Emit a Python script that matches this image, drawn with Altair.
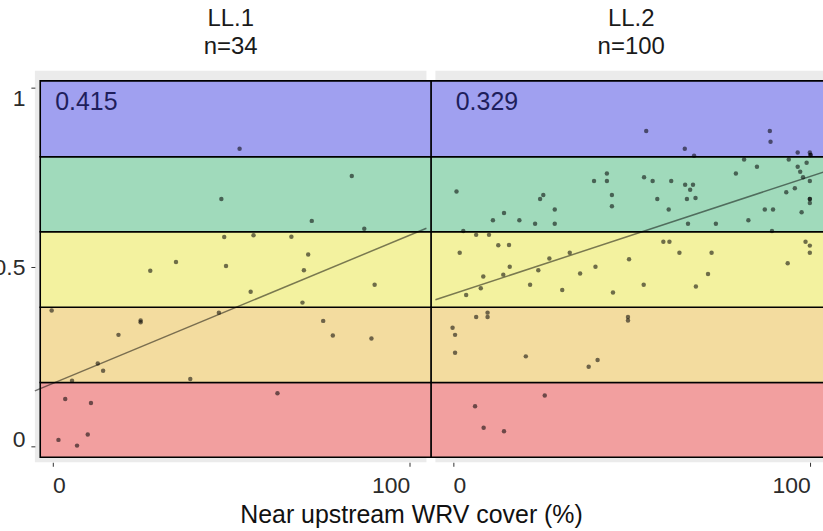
import altair as alt
import pandas as pd

# ---------------- data ----------------
panel_names = ["LL.1", "LL.2"]
n_labels = ["n=34", "n=100"]
r_labels = ["0.415", "0.329"]

ll1_x = [52.4, 83.8, 47.3, 72.6, 87.3, 48.1, 56.3, 66.9, 71.6, 27.4, 34.6, 48.6,
         70.4, 90.2, 55.5, 70.0, -0.2, 46.6, 24.7, 24.7, 75.8, 18.5, 78.5, 89.3,
         12.7, 14.2, 5.5, 38.6, 63.0, 3.6, 10.8, 1.7, 6.9, 9.9]
ll1_y = [0.830, 0.754, 0.690, 0.629, 0.607, 0.584, 0.589, 0.585, 0.535, 0.490,
         0.514, 0.503, 0.491, 0.451, 0.431, 0.401, 0.379, 0.373, 0.351, 0.346,
         0.350, 0.311, 0.309, 0.301, 0.231, 0.211, 0.183, 0.188, 0.148, 0.132,
         0.121, 0.018, 0.002, 0.033]

ll2_x = [54.1, 88.7, 88.9, 64.9, 67.5, 96.5, 99.9, 100.1,
         81.5, 94.0, 99.0, 85.1, 96.5, 97.2, 98.0, 99.9, 79.2, 53.5, 55.9, 61.1,
         65.0, 67.2, 66.4, 65.5, 67.9, 57.2, 95.7, 93.3, 99.9, 99.9, 60.4, 87.3,
         89.6, 97.6, 82.7, 65.8, 73.6, 89.3,
         1.0, 43.1, 43.1, 39.5, 44.5, 44.5, 25.3, 24.4, 28.5, 28.5, 23.0, 18.6,
         14.3, 11.2, 2.9,
         58.9, 60.6, 98.7, 99.9, 63.4, 72.4, 99.9, 49.3, 93.7, 71.4, 53.4, 68.0,
         6.5, 10.1, 12.7, 15.7, 1.9, 32.7, 27.0, 15.9, 39.9, 23.9, 35.6, 8.5,
         14.1, 7.8, 3.7, 21.6, 30.6, 44.8,
         49.0, 49.0, 6.5, 9.7, 9.7, -0.1, 0.6, 0.6, 20.4, 38.0, 40.5,
         25.7, 6.2, 8.6, 14.3,
         99.9, 100.1]
ll2_y = [0.880, 0.880, 0.850, 0.830, 0.811, 0.820, 0.820, 0.813,
         0.800, 0.800, 0.791, 0.780, 0.780, 0.766, 0.751, 0.740, 0.761, 0.751,
         0.740, 0.740, 0.730, 0.730, 0.716, 0.690, 0.693, 0.690, 0.720, 0.709,
         0.690, 0.679, 0.661, 0.661, 0.661, 0.653, 0.631, 0.621, 0.621, 0.601,
         0.711, 0.761, 0.740, 0.740, 0.701, 0.670, 0.701, 0.690, 0.661, 0.621,
         0.621, 0.631, 0.651, 0.631, 0.601,
         0.571, 0.571, 0.571, 0.560, 0.540, 0.540, 0.540, 0.522, 0.511, 0.481,
         0.451, 0.446,
         0.590, 0.590, 0.561, 0.562, 0.540, 0.540, 0.524, 0.501, 0.501, 0.491,
         0.482, 0.474, 0.479, 0.441, 0.422, 0.451, 0.436, 0.429,
         0.361, 0.351, 0.361, 0.373, 0.361, 0.331, 0.311, 0.261, 0.251, 0.222,
         0.241,
         0.142, 0.112, 0.052, 0.042,
         0.690, 0.813]

fit_intercept = [0.175, 0.425]
fit_slope = [0.00414, 0.00328]

band_edges = [-0.0306, 0.178, 0.388, 0.5986, 0.808, 1.0195]
band_colors = ["#F29F9F", "#F3DC9F", "#F3F29F", "#A0DABB", "#A0A0F0"]
band_x_start = [-3.4, -6.1]
band_x_end = [106.1, 104.7]

x_domain = [-4.9, 104.7]
y_domain = [-0.0445, 1.048]

FONT = "Liberation Sans"


def make_panel(i, xs, ys, show_y):
    xsc = alt.Scale(domain=x_domain, nice=False, zero=False)
    ysc = alt.Scale(domain=y_domain, nice=False, zero=False)
    xaxis = alt.Axis(values=[0, 100], title=None, grid=False, domain=False,
                     tickSize=4, tickColor="#333333", labelFlush=20,
                     labelPadding=8, labelFontSize=23, labelFont=FONT,
                     labelColor="#2B2B2B", format="d")
    if show_y:
        yaxis = alt.Axis(values=[0, 0.5, 1], title=None, grid=False, domain=False,
                         tickSize=4, tickColor="#333333",
                         labelBaseline={"condition": [
                             {"test": "datum.value >= 1", "value": "top"},
                             {"test": "datum.value <= 0", "value": "alphabetic"}],
                             "value": "middle"},
                         labelPadding=6, labelFontSize=23, labelFont=FONT,
                         labelColor="#2B2B2B", format="~g")
    else:
        yaxis = None

    bands = pd.DataFrame({
        "x": [band_x_start[i]] * 5,
        "x2": [band_x_end[i]] * 5,
        "y": band_edges[:-1],
        "y2": band_edges[1:],
        "c": band_colors,
    })
    pts = pd.DataFrame({"x": xs, "y": ys})
    line = pd.DataFrame({"x": x_domain,
                         "y": [fit_intercept[i] + fit_slope[i] * v for v in x_domain]})
    lab = pd.DataFrame({"x": [0.8], "y": [0.962], "t": [r_labels[i]]})

    rect = alt.Chart(bands).mark_rect(stroke="black", strokeWidth=1.6).encode(
        x=alt.X("x:Q", scale=xsc, axis=xaxis),
        x2="x2:Q",
        y=alt.Y("y:Q", scale=ysc, axis=yaxis),
        y2="y2:Q",
        fill=alt.Fill("c:N", scale=None),
    )
    fitl = alt.Chart(line).mark_line(color="black", opacity=0.5, strokeWidth=1.5).encode(
        x=alt.X("x:Q", scale=xsc), y=alt.Y("y:Q", scale=ysc))
    dots = alt.Chart(pts).mark_circle(size=20, color="black", opacity=0.55).encode(
        x=alt.X("x:Q", scale=xsc), y=alt.Y("y:Q", scale=ysc))
    txt = alt.Chart(lab).mark_text(align="left", baseline="middle", fontSize=25,
                                   font=FONT, color="#1E1E5C").encode(
        x=alt.X("x:Q", scale=xsc), y=alt.Y("y:Q", scale=ysc), text="t:N")

    return alt.layer(rect, fitl, dots, txt).properties(
        width=393, height=393,
        title=alt.TitleParams([panel_names[i], n_labels[i]], fontSize=24, font=FONT,
                              fontWeight="normal", color="#1A1A1A", anchor="middle",
                              lineHeight=28, offset=12),
    )


p1 = make_panel(0, ll1_x, ll1_y, True)
p2 = make_panel(1, ll2_x, ll2_y, False)

chart = alt.hconcat(p1, p2, spacing=9, bounds="flush").properties(
    title=alt.TitleParams("Near upstream WRV cover (%)", orient="bottom",
                          anchor="middle", fontSize=25, font=FONT,
                          fontWeight="normal", color="#111111", offset=6),
    padding={"left": -7, "top": 6, "right": -7, "bottom": 0},
).configure_view(fill="#EBEBEB", stroke=None)

chart.save("out.html", embed_options={"renderer": "svg", "actions": False})
